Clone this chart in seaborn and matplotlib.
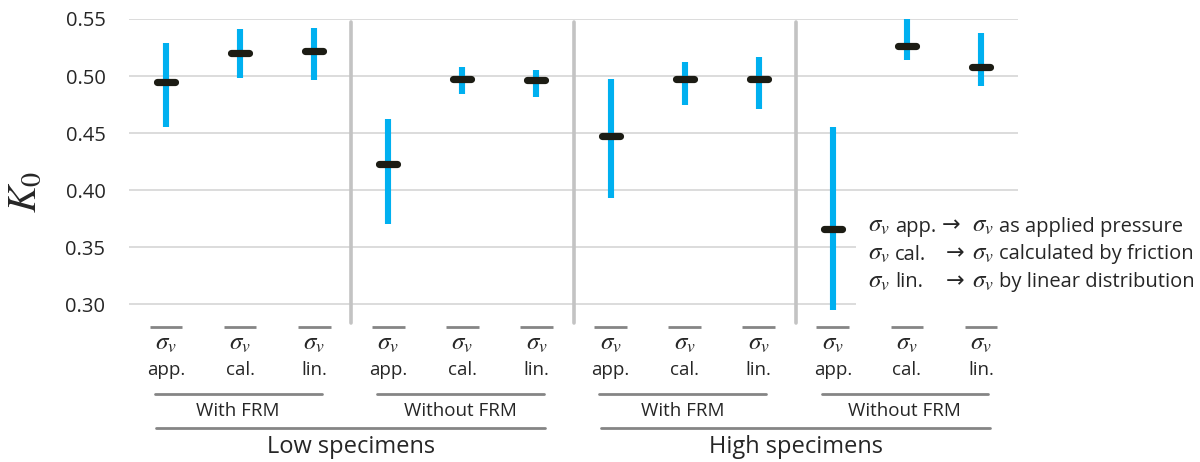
import numpy as np
import pandas as pd
import matplotlib
matplotlib.use("Agg")
import matplotlib.pyplot as plt
import seaborn as sns
from matplotlib.markers import MarkerStyle
from matplotlib.patches import Rectangle
from matplotlib.transforms import blended_transform_factory

# ---- data -------------------------------------------------------------
specimens = ["Low specimens", "High specimens"]
frm_states = ["With FRM", "Without FRM"]
methods = ["app.", "cal.", "lin."]

k0_mean = [0.495, 0.520, 0.522, 0.423, 0.497, 0.4965, 0.447, 0.497, 0.497, 0.366, 0.526, 0.508]
k0_low = [0.455, 0.498, 0.4965, 0.370, 0.484, 0.482, 0.393, 0.475, 0.471, 0.295, 0.514, 0.4915]
k0_high = [0.529, 0.5415, 0.5425, 0.462, 0.508, 0.5055, 0.497, 0.512, 0.517, 0.455, 0.556, 0.5375]

legend_rows = [("app.", "as applied pressure"),
               ("cal.", "calculated by friction"),
               ("lin.", "by linear distribution")]

y_ticks = [0.30, 0.35, 0.40, 0.45, 0.50, 0.55]

# ---- table ------------------------------------------------------------
rows = []
for s in specimens:
    for f in frm_states:
        for m in methods:
            rows.append((s, f, m))
df = pd.DataFrame(rows, columns=["specimen", "frm", "method"])
df["case"] = df["specimen"] + " | " + df["frm"] + " | " + df["method"]
df["k0"] = k0_mean
df["lo"] = k0_low
df["hi"] = k0_high
order = list(df["case"])

# ---- style ------------------------------------------------------------
sns.set_theme(style="white")
plt.rcParams["font.family"] = ["Open Sans", "DejaVu Sans"]
plt.rcParams["mathtext.fontset"] = "stix"
TXT = "#262626"
BLUE = "#00B0F0"
MEAN = "#1c1c14"
GRID = "#d9d9d9"
SEP = "#c3c3c3"
RULE = "#858585"

W, H = 1200, 462
fig = plt.figure(figsize=(W / 100, H / 100), dpi=100)
ax = fig.add_axes([129 / W, 1 - 327 / H, (1018 - 129) / W, (327 - 19) / H])

def fy(p):
    return 1 - p / H

# range bars
xs = np.arange(len(df))
ax.vlines(xs, df["lo"], df["hi"], color=BLUE, linewidth=4.4, zorder=3)

# mean markers
sns.pointplot(data=df, x="case", y="k0", order=order, ax=ax,
              linestyle="none", errorbar=None, color=MEAN,
              marker=MarkerStyle("_", capstyle="round"),
              markersize=13.5, markeredgewidth=5.2, zorder=4)

ax.set_xlim(-0.5, len(df) - 0.5)
ax.set_ylim(0.28, 0.55)
ax.set_yticks(y_ticks)
ax.set_yticklabels([f"{t:.2f}" for t in y_ticks])
ax.tick_params(axis="y", length=0, pad=17, labelsize=14.5, labelcolor=TXT)
ax.set_xticks([])
ax.set_xlabel("")
ax.set_ylabel("")
for sp in ax.spines.values():
    sp.set_visible(False)
ax.set_axisbelow(True)
ax.yaxis.grid(True, color=GRID, linewidth=1.3)
ax.xaxis.grid(False)

# group separators
for xsep in [2.5, 5.5, 8.5]:
    ax.axvline(xsep, ymin=0.0125, ymax=0.99, color=SEP, linewidth=2.6, zorder=1)

# short rules under each case
ax.hlines([0.28] * len(df), xs - 0.22, xs + 0.22, color=RULE, linewidth=2,
          clip_on=False)

# category labels below the axis
bt = blended_transform_factory(ax.transData, fig.transFigure)
for i, m in enumerate(df["method"]):
    ax.text(i, fy(343), r"$\sigma_v$", transform=bt, ha="center", va="center",
            fontsize=18, color=TXT)
    ax.text(i, fy(375), m, transform=bt, ha="center", va="baseline",
            fontsize=13.5, color=TXT)

# FRM and specimen group rules + labels
for k, f in enumerate(frm_states * 2):
    c = 1 + 3 * k
    ax.plot([c - 1.15, c + 1.1], [fy(394)] * 2, transform=bt, color=RULE,
            linewidth=2, clip_on=False)
    ax.text(c - 0.03, fy(416.5), f, transform=bt, ha="center", va="baseline",
            fontsize=13.5, color=TXT)
for k, s in enumerate(specimens):
    c = 2.5 + 6 * k
    ax.plot([c - 2.63, c + 2.62], [fy(428)] * 2, transform=bt, color=RULE,
            linewidth=2, clip_on=False)
    ax.text(c, fy(453), s, transform=bt, ha="center", va="baseline",
            fontsize=17, color=TXT)

# y label
fig.text(25 / W, fy(192), r"$K_0$", rotation=90, ha="center", va="center",
         fontsize=29, color=TXT)

# legend box
fig.add_artist(Rectangle((856 / W, fy(312)), (W - 856) / W, (312 - 205) / H,
                         transform=fig.transFigure, facecolor="white",
                         edgecolor="none", zorder=2))
arrow_x = [942, 946, 946]
for r, (abbr, desc) in enumerate(legend_rows):
    yb = fy(231.7 + 27.8 * r)
    fig.text(868 / W, yb, r"$\sigma_v$", va="baseline", fontsize=18,
             color=TXT, zorder=3)
    fig.text(895 / W, yb, abbr, va="baseline", fontsize=14.5, color=TXT,
             zorder=3)
    fig.text(arrow_x[r] / W, yb, "\u2192", va="baseline", fontsize=16,
             family=["DejaVu Sans"], color=TXT, zorder=3)
    fig.text(972 / W, yb, r"$\sigma_v$", va="baseline", fontsize=18,
             color=TXT, zorder=3)
    fig.text(999 / W, yb, desc, va="baseline", fontsize=14.5, color=TXT,
             zorder=3)

fig.savefig("out.png", dpi=100, facecolor="white")
